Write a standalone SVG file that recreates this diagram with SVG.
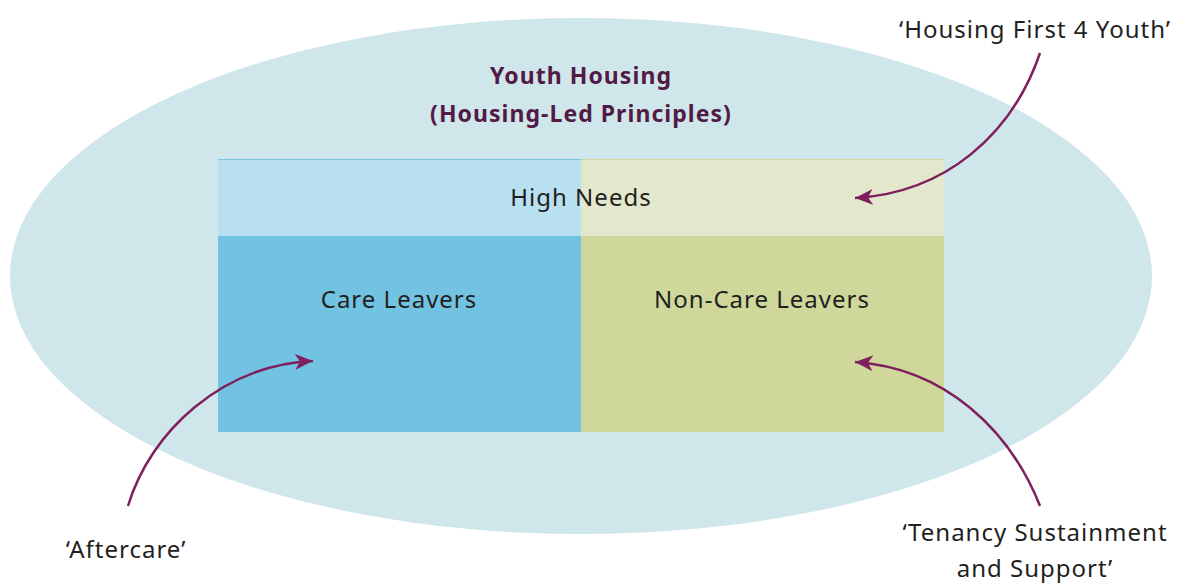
<svg xmlns="http://www.w3.org/2000/svg" width="1178" height="583" viewBox="0 0 1178 583">
<style>
.t{font-family:"Noto Sans","Liberation Sans",sans-serif;font-size:24px;letter-spacing:1px;fill:#231f20;text-anchor:middle}
.h{font-family:"Noto Sans","Liberation Sans",sans-serif;font-size:23px;font-weight:bold;letter-spacing:1.05px;fill:#521a45;text-anchor:middle}
.c{fill:none;stroke:#7f1f5f;stroke-width:2.5}
</style>
<defs>
<marker id="ah" markerUnits="userSpaceOnUse" markerWidth="20" markerHeight="16" refX="18" refY="8" orient="auto">
<path d="M0,0 L18,8 L0,16 L5,8 Z" fill="#7f1f5f"/>
</marker>
</defs>
<rect width="1178" height="583" fill="#ffffff"/>
<g id="outer">
<ellipse cx="581" cy="276" rx="571" ry="258" fill="#cfe6ea"/>
<text class="h" x="581" y="84">Youth Housing</text>
<text class="h" x="581" y="122">(Housing-Led Principles)</text>
</g>
<g id="high-needs">
<rect x="218" y="159" width="363" height="77" fill="#b8e0f0"/>
<rect x="581" y="159" width="363" height="77" fill="#e3e8cc"/>
<line x1="218" y1="159.5" x2="581" y2="159.5" stroke="#7ec3e4" stroke-width="1"/>
<line x1="581" y1="159.5" x2="944" y2="159.5" stroke="#cfd79a" stroke-width="1"/>
<text class="t" x="581" y="206">High Needs</text>
</g>
<g id="care-leavers">
<rect x="218" y="236" width="363" height="196" fill="#72c2e2"/>
<text class="t" x="399" y="308">Care Leavers</text>
</g>
<g id="non-care-leavers">
<rect x="581" y="236" width="363" height="196" fill="#cfd79a"/>
<text class="t" x="762" y="308">Non-Care Leavers</text>
</g>
<g id="label-hf4y"><text class="t" x="1035" y="38">‘Housing First 4 Youth’</text></g>
<g id="label-aftercare"><text class="t" x="126" y="558">‘Aftercare’</text></g>
<g id="label-tenancy">
<text class="t" x="1035" y="541">‘Tenancy Sustainment</text>
<text class="t" x="1035" y="577">and Support’</text>
</g>
<g id="connectors">
<path class="c" d="M1040,53 C1012,135 945,193 855,198" marker-end="url(#ah)"/>
<path class="c" d="M128,506 C150,432 222,365 313,361" marker-end="url(#ah)"/>
<path class="c" d="M1040,506 C1010,430 945,368 855,362" marker-end="url(#ah)"/>
</g>
</svg>
